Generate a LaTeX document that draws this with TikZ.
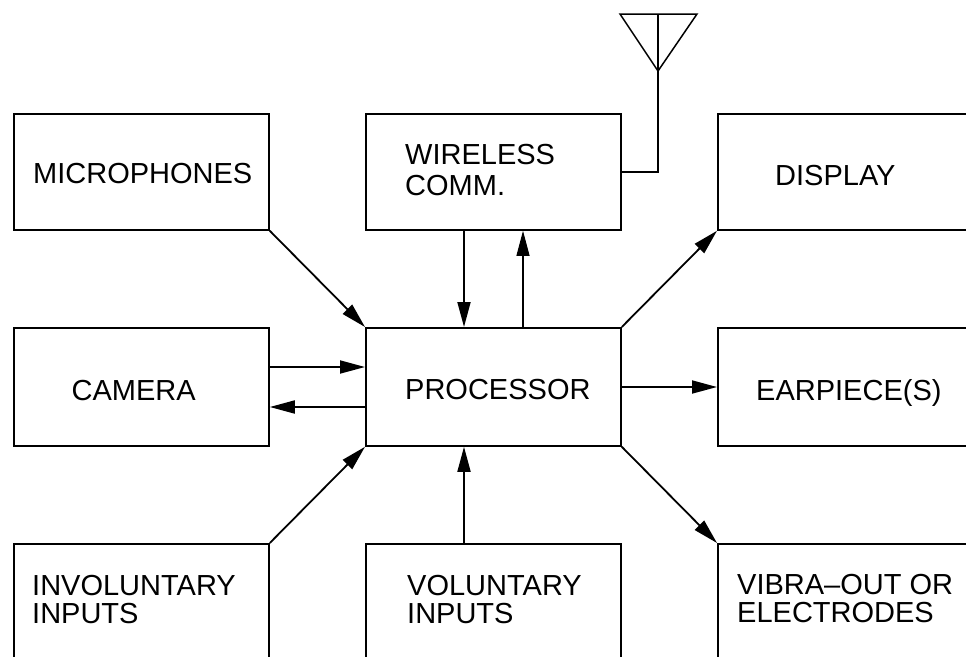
\documentclass[tikz,border=0pt]{standalone}
\usepackage{fontspec}
\setmainfont{Liberation Sans}
\usetikzlibrary{arrows.meta}
\begin{document}
\begin{tikzpicture}[x=1pt,y=-1pt,
  box/.style={draw, line width=1.8pt, minimum width=255pt, minimum height=116pt, inner sep=0pt, anchor=north west},
  lbl/.style={font=\fontsize{29}{28}\selectfont, inner sep=0pt, anchor=base west, align=left},
  arr/.style={line width=1.8pt, -{Triangle[length=25pt,width=13pt]}},
  thinline/.style={line width=1.1pt}]
\useasboundingbox (0,0) rectangle (966,656);
\clip (0,0) rectangle (966,656);
% boxes
\node[box] (mic)  at (13,113) {};
\node[box] (wl)   at (365,113) {};
\node[box] (disp) at (717,113) {};
\node[box, minimum height=118pt] (cam)  at (13,327) {};
\node[box, minimum height=118pt] (proc) at (365,327) {};
\node[box, minimum height=118pt] (ear)  at (717,327) {};
\node[box] (inv)  at (13,543) {};
\node[box] (vol)  at (365,543) {};
\node[box] (vib)  at (717,543) {};
% labels (multi-line labels are anchored at the baseline of their last line)
\node[lbl] (tmic)  at (33,183) {MICROPHONES};
\node[lbl, font=\fontsize{29}{31}\selectfont] (twl) at (405,195) {WIRELESS\\COMM.};
\node[lbl] (tdisp) at (775,185) {DISPLAY};
\node[lbl] (tcam)  at (71.5,400) {CAMERA};
\node[lbl] (tproc) at (405,399) {PROCESSOR};
\node[lbl] (tear)  at (756,400) {EARPIECE(S)};
\node[lbl] (tinv)  at (32,623) {INVOLUNTARY\\INPUTS};
\node[lbl] (tvol)  at (407,623) {VOLUNTARY\\INPUTS};
\node[lbl] (tvib)  at (737,622) {VIBRA–OUT OR\\ELECTRODES};
% helper coordinates
\coordinate (xa) at (464,0);
\coordinate (xb) at (523,0);
\coordinate (ya) at (0,367);
\coordinate (yb) at (0,407);
\coordinate (yc) at (0,387);
% connectors
\draw[arr] (mic.south east) -- (proc.north west);
\draw[arr] (wl.south -| xa) -- (proc.north -| xa);
\draw[arr, thinline] (proc.north -| xb) -- (wl.south -| xb);
\draw[arr] (cam.east |- ya) -- (proc.west |- ya);
\draw[arr] (proc.west |- yb) -- (cam.east |- yb);
\draw[arr] (proc.north east) -- (disp.south west);
\draw[arr] (proc.east |- yc) -- (ear.west |- yc);
\draw[arr] (proc.south east) -- (vib.north west);
\draw[arr] (inv.north east) -- (proc.south west);
\draw[arr] (vol.north -| xa) -- (proc.south -| xa);
% antenna
\coordinate (ant) at (658,14);
\draw[line width=1.5pt, line join=miter] (620,14) -- (697,14) -- (658,71) -- cycle;
\draw[line width=1.4pt] (ant) |- (wl.east);
\end{tikzpicture}
\end{document}
